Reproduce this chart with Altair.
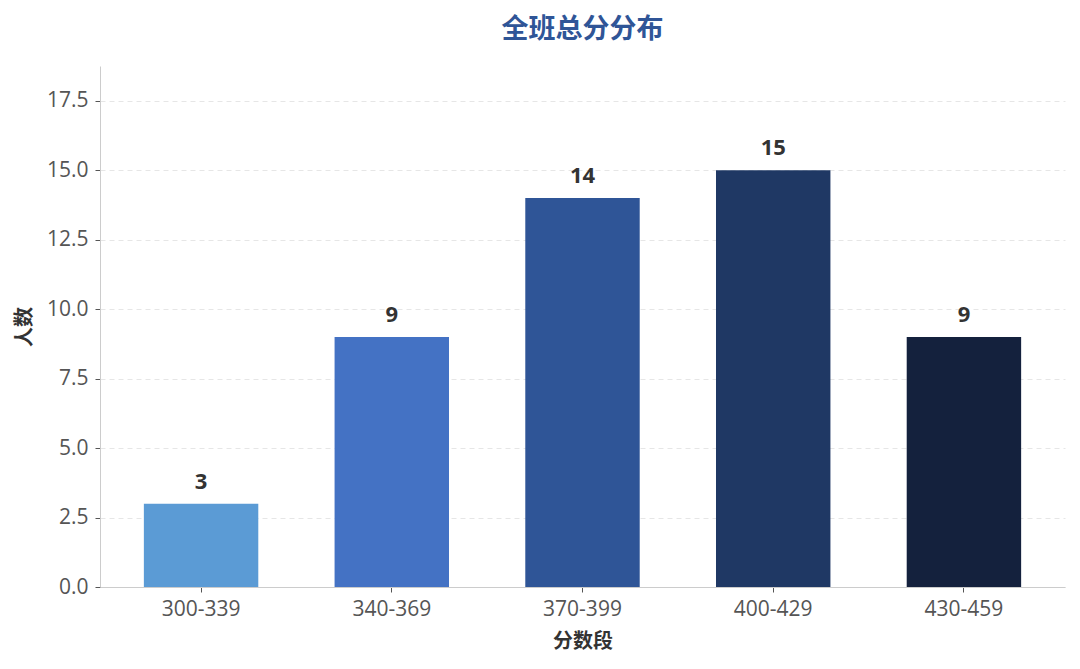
import altair as alt
import pandas as pd

categories = ["300-339", "340-369", "370-399", "400-429", "430-459"]
counts = [3, 9, 14, 15, 9]
colors = ["#5B9BD5", "#4472C4", "#2F5597", "#1F3864", "#14213D"]

df = pd.DataFrame({"seg": categories, "n": counts})

CJK = "Noto Sans CJK SC"
NUM = "Open Sans"

x = alt.X("seg:N", sort=categories, title="分数段",
          scale=alt.Scale(paddingInner=0.4, paddingOuter=0.23),
          axis=alt.Axis(labelAngle=0, labelFontSize=21, labelColor="#555555", labelFont=NUM,
                        titleFontSize=20, titleFontWeight="bold", titleColor="#333333", titleFont=CJK,
                        tickColor="#555555", tickSize=5, domainColor="#cccccc",
                        labelPadding=6, titlePadding=12))
y = alt.Y("n:Q", title="人数",
          scale=alt.Scale(domain=[0, 18.75], nice=False),
          axis=alt.Axis(values=[0, 2.5, 5, 7.5, 10, 12.5, 15, 17.5], format=".1f",
                        labelFontSize=21, labelColor="#555555", labelFont=NUM,
                        titleFontSize=20, titleFontWeight="bold", titleColor="#333333", titleFont=CJK,
                        tickColor="#555555", tickSize=5, domainColor="#cccccc",
                        grid=True, gridDash=[5, 4], gridColor="#e6e6e6",
                        labelPadding=7, titlePadding=12))

bars = alt.Chart(df).mark_bar().encode(
    x=x, y=y,
    color=alt.Color("seg:N", scale=alt.Scale(domain=categories, range=colors), legend=None),
)
labels = alt.Chart(df).mark_text(dy=-10, baseline="bottom", fontSize=22, fontWeight="bold",
                                 color="#333333", font=NUM).encode(
    x=alt.X("seg:N", sort=categories), y="n:Q", text="n:Q"
)

chart = (bars + labels).properties(
    width=965, height=521,
    title=alt.TitleParams("全班总分分布", fontSize=27, fontWeight="bold", color="#2F5597",
                          font=CJK, anchor="middle", offset=22),
    autosize=alt.AutoSizeParams(type="none"),
    padding={"left": 92, "top": 58, "right": 7, "bottom": 80},
).configure_view(stroke=None)

chart.save("out.html", embed_options={"renderer": "svg", "actions": False})
